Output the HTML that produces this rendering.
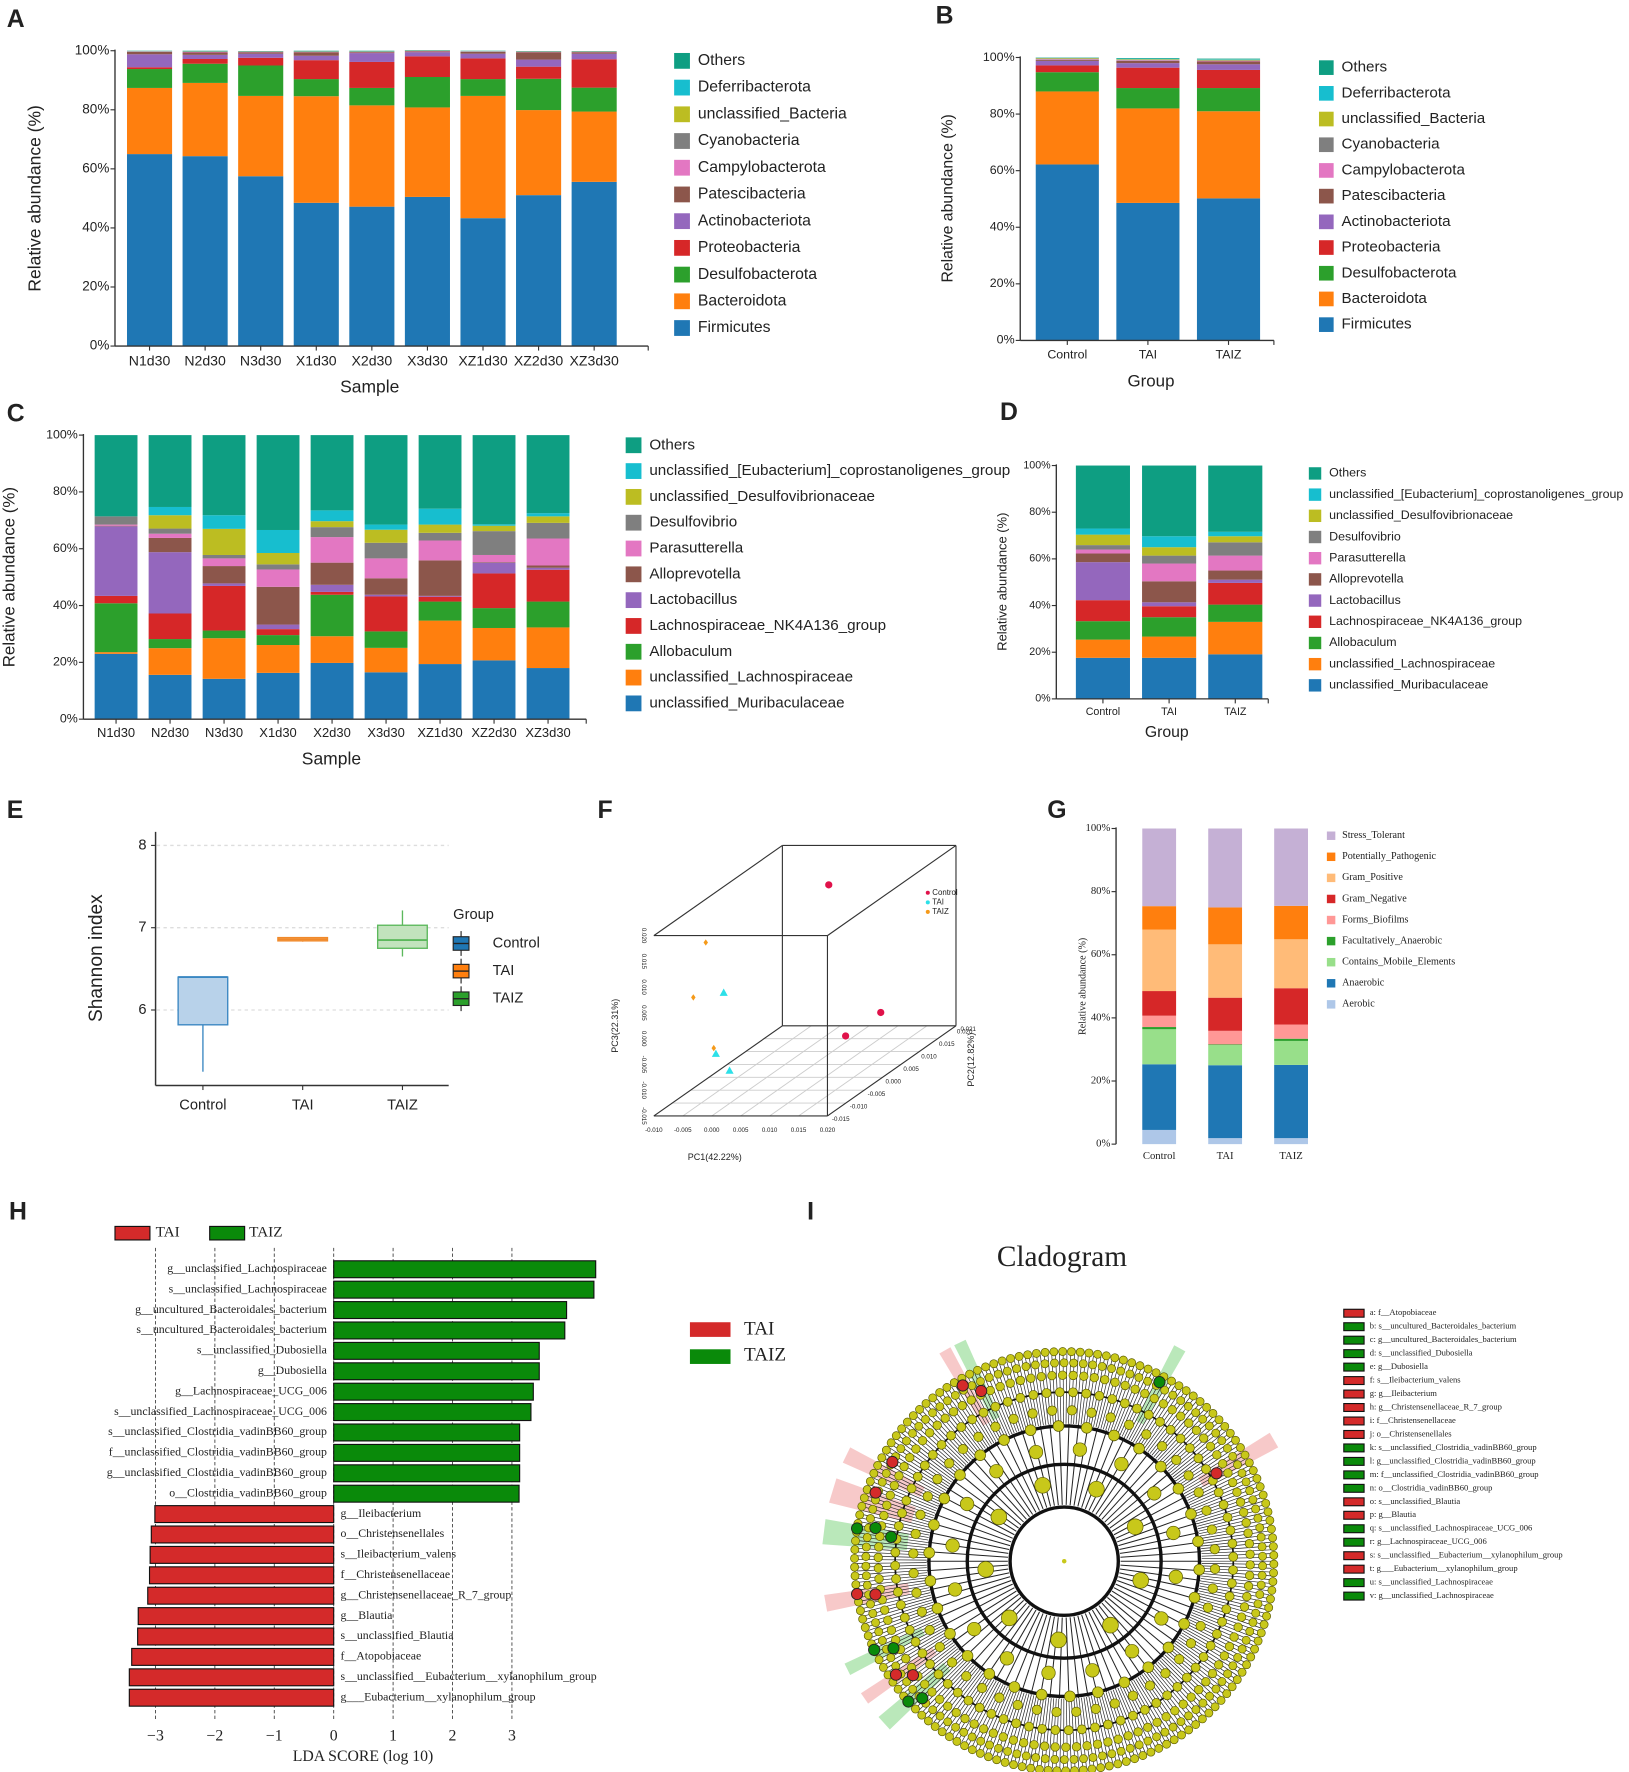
<!DOCTYPE html>
<html><head><meta charset="utf-8">
<style>
html,body{margin:0;padding:0;background:#fff;}
svg{display:block;}
text{font-family:"Liberation Sans",sans-serif;fill:#222;}
.serif{font-family:"Liberation Serif",serif;}
</style></head>
<body>
<svg id="fig" xmlns="http://www.w3.org/2000/svg" width="1629" height="1772" viewBox="0 0 1445 1572" preserveAspectRatio="none">
<rect x="0" y="0" width="1445" height="1572" fill="#fff"/>
</svg>
<script>
// ===== Panel A data (phylum, per sample) =====
const aCats=['N1d30','N2d30','N3d30','X1d30','X2d30','X3d30','XZ1d30','XZ2d30','XZ3d30'];
const aFirmicutes=[65,64.3,57.5,48.5,47.2,50.5,43.3,51.1,55.6];
const aBacteroidota=[22.4,24.8,27.2,36.1,34.3,30.3,41.4,28.8,23.8];
const aDesulfobacterota=[6.4,6.5,10.3,5.8,5.9,10.3,5.7,10.6,8.1];
const aProteobacteria=[0.6,1.6,2.6,6.4,8.8,7.0,7.0,4.1,9.6];
const aActinobacteriota=[4.4,1.4,1.4,1.5,3.0,1.4,1.6,2.4,1.9];
const aPatescibacteria=[0.8,0.8,0.5,1.2,0.3,0.3,0.6,2.5,0.5];
const aCampylobacterota=[0.1,0.2,0.1,0.1,0.1,0.1,0.1,0.1,0.1];
const aCyanobacteria=[0.1,0.1,0.1,0.1,0.1,0.1,0.1,0.1,0.1];
const aUnclBacteria=[0.05,0.05,0.05,0.05,0.05,0.05,0.05,0.05,0.05];
const aDeferribacterota=[0.05,0.05,0.05,0.05,0.05,0.05,0.05,0.05,0.05];
const aOthers=[0.1,0.2,0.1,0.2,0.2,0.1,0.1,0.1,0.1];
// ===== Panel B data (phylum, per group) =====
const bCats=['Control','TAI','TAIZ'];
const bFirmicutes=[62.2,48.6,50.2];
const bBacteroidota=[25.8,33.4,30.8];
const bDesulfobacterota=[6.8,7.2,8.2];
const bProteobacteria=[2.4,7.2,6.4];
const bActinobacteriota=[1.6,1.6,2.0];
const bPatescibacteria=[0.4,0.8,1.0];
const bCampylobacterota=[0.2,0.2,0.2];
const bCyanobacteria=[0.2,0.2,0.2];
const bUnclBacteria=[0.2,0.2,0.2];
const bDeferribacterota=[0.1,0.2,0.2];
const bOthers=[0.1,0.2,0.2];
// ===== Panel C data (genus, per sample) =====
const cMuribaculaceae=[23.0,15.6,14.2,16.3,19.8,16.5,19.4,20.7,18.0];
const cUnclLachno=[0.6,9.4,14.3,9.8,9.4,8.6,15.3,11.4,14.3];
const cAllobaculum=[17.2,3.2,2.7,3.5,14.6,5.8,6.7,7.0,9.1];
const cNK4A136=[2.6,9.0,15.7,2.1,1.0,12.3,1.7,12.2,11.2];
const cLactobacillus=[24.5,21.6,0.9,1.6,2.5,0.6,0.3,3.8,0.7];
const cAlloprevotella=[0.2,5.0,6.1,13.3,7.8,5.8,12.5,0.2,0.8];
const cParasutterella=[0.4,1.5,2.7,6.1,9.0,7.0,7.0,2.5,9.5];
const cDesulfovibrio=[2.9,1.8,1.2,1.8,3.5,5.5,2.7,8.4,5.5];
const cUnclDesulfo=[0.0,4.7,9.2,4.0,2.1,4.6,2.9,1.9,2.3];
const cUnclEubact=[0.0,2.9,4.8,8.1,3.8,1.8,5.6,0.5,1.1];
const cOthers=[28.6,25.3,28.2,33.4,26.5,31.5,25.9,31.4,27.5];
// ===== Panel D data (genus, per group) =====
const dMuribaculaceae=[17.6,17.6,19.1];
const dUnclLachno=[7.8,9.1,13.9];
const dAllobaculum=[7.9,8.3,7.4];
const dNK4A136=[9.0,4.7,9.3];
const dLactobacillus=[16.3,1.7,1.4];
const dAlloprevotella=[3.7,9.0,3.9];
const dParasutterella=[1.7,7.6,6.4];
const dDesulfovibrio=[1.9,3.4,5.7];
const dUnclDesulfo=[4.5,3.6,2.6];
const dUnclEubact=[2.6,4.7,1.9];
const dOthers=[27.0,30.3,28.4];
// ===== Panel E data (Shannon) =====
const eGroups=['Control','TAI','TAIZ'];
const eMin=[5.25,6.83,6.65];
const eQ1=[5.82,6.84,6.75];
const eMed=[6.40,6.86,6.85];
const eQ3=[6.40,6.88,7.03];
const eMax=[6.40,6.88,7.21];
const eTicks=[6,7,8];
// ===== Panel F data (PCoA 3D) =====
const fGroup=['Control','Control','Control','TAI','TAI','TAI','TAIZ','TAIZ','TAIZ'];
const fPC1=[0.0048,0.0107,0.0108,-0.0041,-0.0036,0.0000,-0.0072,-0.0075,-0.0052];
const fPC2=[0.010,0.015,0.005,-0.005,-0.008,-0.010,-0.005,-0.008,-0.006];
const fPC3=[0.0177,-0.0095,-0.0092,0.0040,-0.0064,-0.0087,0.0138,0.0046,-0.0062];
// ===== Panel G data (BugBase phenotypes) =====
const gAerobic=[4.5,1.9,1.9];
const gAnaerobic=[20.8,23.1,23.2];
const gMobile=[11.1,6.4,7.6];
const gFacult=[0.7,0.2,0.7];
const gBiofilm=[3.6,4.3,4.5];
const gGramNeg=[7.8,10.5,11.5];
const gGramPos=[19.5,16.9,15.5];
const gPatho=[7.4,11.7,10.6];
const gStress=[24.6,25.0,24.5];
// ===== Panel H data (LEfSe LDA) =====
const hLabels=['g__unclassified_Lachnospiraceae','s__unclassified_Lachnospiraceae','g__uncultured_Bacteroidales_bacterium','s__uncultured_Bacteroidales_bacterium','s__unclassified_Dubosiella','g__Dubosiella','g__Lachnospiraceae_UCG_006','s__unclassified_Lachnospiraceae_UCG_006','s__unclassified_Clostridia_vadinBB60_group','f__unclassified_Clostridia_vadinBB60_group','g__unclassified_Clostridia_vadinBB60_group','o__Clostridia_vadinBB60_group','g__Ileibacterium','o__Christensenellales','s__Ileibacterium_valens','f__Christensenellaceae','g__Christensenellaceae_R_7_group','g__Blautia','s__unclassified_Blautia','f__Atopobiaceae','s__unclassified__Eubacterium__xylanophilum_group','g___Eubacterium__xylanophilum_group'];
const hScores=[4.41,4.38,3.92,3.89,3.46,3.46,3.36,3.32,3.13,3.13,3.13,3.12,-3.01,-3.07,-3.09,-3.10,-3.13,-3.29,-3.30,-3.40,-3.44,-3.44];
const hTicks=[-3,-2,-1,0,1,2,3];

const NS='http://www.w3.org/2000/svg';
const svg=document.getElementById('fig');
function mk(tag,attrs,parent,name){const e=document.createElementNS(NS,tag);for(const k in attrs)e.setAttribute(k,attrs[k]);(parent||svg).appendChild(e);


return e;}
function txt(x,y,s,size,anchor,parent,name,extra){const a={x:x,y:y,'font-size':size,'text-anchor':anchor||'start','dominant-baseline':'middle'};if(extra)for(const k in extra)a[k]=extra[k];const e=mk('text',a,parent,name);e.textContent=s;return e;}
function group(name){const g=document.createElementNS(NS,'g');svg.appendChild(g);


return g;}

function stacked(o){
  const g=o.g;
  const yS=v=>o.y0-v/100*(o.y0-o.y100);
  const xC=i=>o.xStart+o.step*(i+0.5);
  for(let i=0;i<o.cats.length;i++){
    let cum=0;
    for(let s=0;s<o.series.length;s++){
      const v=o.series[s][i];
      const r=mk('rect',{x:xC(i)-o.barW/2,y:yS(cum+v),width:o.barW,height:Math.max(0,yS(cum)-yS(cum+v)),fill:o.colors[s]},g,'bar-'+o.cats[i]+'-'+o.names[s]);
      cum+=v;
    }
  }
  // axes
  mk('line',{x1:o.axisX,y1:o.y100-1,x2:o.axisX,y2:o.y0,stroke:'#333','stroke-width':1.2},g,'y-axis');
  mk('line',{x1:o.axisX,y1:o.y0,x2:o.axisEnd,y2:o.y0,stroke:'#333','stroke-width':1.2},g,'x-axis');
  [0,20,40,60,80,100].forEach(t=>{
    mk('line',{x1:o.axisX-4,y1:yS(t),x2:o.axisX,y2:yS(t),stroke:'#333','stroke-width':1},g,'y-tick');
    txt(o.axisX-5,yS(t),t+'%',o.tickSize,'end',g,'y-tick-label',o.serif?{class:'serif'}:null);
  });
  for(let i=0;i<o.cats.length;i++){
    if(!o.serif) mk('line',{x1:xC(i),y1:o.y0,x2:xC(i),y2:o.y0+4,stroke:'#333','stroke-width':1},g,'x-tick');
    txt(xC(i),o.y0+o.xLabDy,o.cats[i],o.xTickSize,'middle',g,'x-tick-label',o.serif?{class:'serif'}:null);
  }
  if(!o.serif) mk('line',{x1:o.axisEnd,y1:o.y0,x2:o.axisEnd,y2:o.y0+4,stroke:'#333','stroke-width':1},g,'x-tick');
}
function legend(g,x,y,dy,names,colors,size,sw,serif){
  for(let i=0;i<names.length;i++){
    mk('rect',{x:x,y:y+i*dy-sw/2,width:sw,height:sw,fill:colors[i]},g,'legend-swatch-'+names[i]);
    txt(x+sw+ (serif?6:7),y+i*dy,names[i],size,'start',g,'legend-entry-'+names[i],serif?{class:'serif'}:null);
  }
}
function panelLetter(x,y,s){const t=txt(x,y,s,22,'start',svg,'panel-label-'+s,{'font-weight':'bold'});}

const phylumNames=['Firmicutes','Bacteroidota','Desulfobacterota','Proteobacteria','Actinobacteriota','Patescibacteria','Campylobacterota','Cyanobacteria','unclassified_Bacteria','Deferribacterota','Others'];
const phylumColors=['#1f77b4','#ff7f0e','#2ca02c','#d62728','#9467bd','#8c564b','#e377c2','#7f7f7f','#bcbd22','#17becf','#0e9e82'];
const genusNames=['unclassified_Muribaculaceae','unclassified_Lachnospiraceae','Allobaculum','Lachnospiraceae_NK4A136_group','Lactobacillus','Alloprevotella','Parasutterella','Desulfovibrio','unclassified_Desulfovibrionaceae','unclassified_[Eubacterium]_coprostanoligenes_group','Others'];
const genusColors=phylumColors;

// ---- Panel A ----
panelLetter(6,18,'A');
let gA=group('panel-a-phylum-by-sample');
stacked({g:gA,cats:aCats,series:[aFirmicutes,aBacteroidota,aDesulfobacterota,aProteobacteria,aActinobacteriota,aPatescibacteria,aCampylobacterota,aCyanobacteria,aUnclBacteria,aDeferribacterota,aOthers],colors:phylumColors,names:phylumNames,xStart:108,step:49.3,barW:40,y0:307,y100:45,axisX:102,axisEnd:575,tickSize:12,xTickSize:12.5,xLabDy:14});
txt(32,176,'Relative abundance (%)',15.5,'middle',gA,'y-axis-title',{transform:'rotate(-90 32 176)'});
txt(328,344,'Sample',15.5,'middle',gA,'x-axis-title');
legend(gA,598,291,-23.7,phylumNames,phylumColors,14,14);

// ---- Panel B ----
panelLetter(830,15,'B');
let gB=group('panel-b-phylum-by-group');
stacked({g:gB,cats:bCats,series:[bFirmicutes,bBacteroidota,bDesulfobacterota,bProteobacteria,bActinobacteriota,bPatescibacteria,bCampylobacterota,bCyanobacteria,bUnclBacteria,bDeferribacterota,bOthers],colors:phylumColors,names:phylumNames,xStart:911,step:71.5,barW:56,y0:302,y100:51,axisX:905,axisEnd:1130,tickSize:11,xTickSize:11,xLabDy:13});
txt(841,176,'Relative abundance (%)',14,'middle',gB,'y-axis-title',{transform:'rotate(-90 841 176)'});
txt(1021,339,'Group',15,'middle',gB,'x-axis-title');
legend(gB,1170,288,-22.8,phylumNames,phylumColors,13.5,13);

// ---- Panel C ----
panelLetter(6,368,'C');
let gC=group('panel-c-genus-by-sample');
stacked({g:gC,cats:aCats,series:[cMuribaculaceae,cUnclLachno,cAllobaculum,cNK4A136,cLactobacillus,cAlloprevotella,cParasutterella,cDesulfovibrio,cUnclDesulfo,cUnclEubact,cOthers],colors:genusColors,names:genusNames,xStart:79,step:47.9,barW:38,y0:638,y100:386,axisX:74,axisEnd:520,tickSize:11,xTickSize:11.5,xLabDy:13});
txt(9,512,'Relative abundance (%)',15,'middle',gC,'y-axis-title',{transform:'rotate(-90 9 512)'});
txt(294,674,'Sample',15.5,'middle',gC,'x-axis-title');
legend(gC,555,624,-22.9,genusNames,genusColors,13.5,14);

// ---- Panel D ----
panelLetter(887,367,'D');
let gD=group('panel-d-genus-by-group');
stacked({g:gD,cats:bCats,series:[dMuribaculaceae,dUnclLachno,dAllobaculum,dNK4A136,dLactobacillus,dAlloprevotella,dParasutterella,dDesulfovibrio,dUnclDesulfo,dUnclEubact,dOthers],colors:genusColors,names:genusNames,xStart:949,step:58.7,barW:48,y0:620,y100:413,axisX:937,axisEnd:1125,tickSize:9.5,xTickSize:9.5,xLabDy:12});
txt(890,516,'Relative abundance (%)',11.5,'middle',gD,'y-axis-title',{transform:'rotate(-90 890 516)'});
txt(1035,650,'Group',14,'middle',gD,'x-axis-title');
legend(gD,1161,608,-18.8,genusNames,genusColors,11,11);

// ---- Panel E (boxplot) ----
panelLetter(6,720,'E');
let gE=group('panel-e-shannon-boxplot');
const eY=v=>896-(v-6)*73;
const eX=i=>180+i*88.5;
const eFill=['#b8d2ea','#f8b677','#c2e3bd'];
const eStroke=['#3a87c2','#f0892a','#5cb85c'];
eTicks.forEach(t=>{
  mk('line',{x1:139,y1:eY(t),x2:398,y2:eY(t),stroke:'#ddd','stroke-width':1.2,'stroke-dasharray':'3,3'},gE,'gridline');
  mk('line',{x1:134,y1:eY(t),x2:138,y2:eY(t),stroke:'#333','stroke-width':1},gE,'y-tick');
  txt(130,eY(t),String(t),13,'end',gE,'y-tick-label');
});
mk('line',{x1:138,y1:738,x2:138,y2:963,stroke:'#333','stroke-width':1.3},gE,'y-axis');
mk('line',{x1:138,y1:963,x2:398,y2:963,stroke:'#333','stroke-width':1.3},gE,'x-axis');
for(let i=0;i<eGroups.length;i++){
  mk('line',{x1:eX(i),y1:eY(eMin[i]),x2:eX(i),y2:eY(eMax[i]),stroke:eStroke[i],'stroke-width':1.2},gE,'whisker-'+eGroups[i]);
  mk('rect',{x:eX(i)-22,y:eY(eQ3[i]),width:44,height:Math.max(1.5,eY(eQ1[i])-eY(eQ3[i])),fill:eFill[i],stroke:eStroke[i],'stroke-width':1.2},gE,'box-'+eGroups[i]);
  mk('line',{x1:eX(i)-22,y1:eY(eMed[i]),x2:eX(i)+22,y2:eY(eMed[i]),stroke:eStroke[i],'stroke-width':1.6},gE,'median-'+eGroups[i]);
  mk('line',{x1:eX(i),y1:963,x2:eX(i),y2:967,stroke:'#333','stroke-width':1},gE,'x-tick');
  txt(eX(i),981,eGroups[i],13,'middle',gE,'x-tick-label');
}
txt(86,850,'Shannon index',17,'middle',gE,'y-axis-title',{transform:'rotate(-90 86 850)'});
txt(402,812,'Group',13,'start',gE,'legend-title');
const eLegFill=['#1f77b4','#ff7f0e','#2ca02c'];
for(let i=0;i<3;i++){
  const y=837+i*24.5;
  mk('line',{x1:409,y1:y-11,x2:409,y2:y+11,stroke:'#222','stroke-width':1},gE,'legend-key-line');
  mk('rect',{x:402,y:y-6,width:14,height:12,fill:eLegFill[i],stroke:'#222','stroke-width':1},gE,'legend-key-'+eGroups[i]);
  mk('line',{x1:402,y1:y,x2:416,y2:y,stroke:'#222','stroke-width':1.2},gE,'legend-key-median');
  txt(437,y,eGroups[i],13,'start',gE,'legend-entry-'+eGroups[i]);
}

// ---- Panel F (3D PCoA) ----
panelLetter(530,720,'F');
let gF=group('panel-f-pcoa-3d');
const fO={x:580,y:990};
const fP=(p1,p2,p3)=>({x:fO.x+(p1+0.010)*5133+(p2+0.015)*3167,y:fO.y-(p3+0.015)*4571-(p2+0.015)*2222});
// floor grid
for(let k=0;k<=6;k++){
  const a=fP(-0.010+k*0.005,-0.015,-0.015), b=fP(-0.010+k*0.005,0.021,-0.015);
  mk('line',{x1:a.x,y1:a.y,x2:b.x,y2:b.y,stroke:'#ccc','stroke-width':0.8},gF,'floor-grid');
}
for(let k=0;k<=7;k++){
  const p2=-0.015+k*0.036/7;
  const a=fP(-0.010,p2,-0.015), b=fP(0.020,p2,-0.015);
  mk('line',{x1:a.x,y1:a.y,x2:b.x,y2:b.y,stroke:'#ccc','stroke-width':0.8},gF,'floor-grid');
}
const fc={
 fbl:fP(-0.010,-0.015,-0.015),fbr:fP(0.020,-0.015,-0.015),ftl:fP(-0.010,-0.015,0.020),ftr:fP(0.020,-0.015,0.020),
 bbl:fP(-0.010,0.021,-0.015),bbr:fP(0.020,0.021,-0.015),btl:fP(-0.010,0.021,0.020),btr:fP(0.020,0.021,0.020)};
[['fbl','fbr'],['ftl','ftr'],['ftl','btl'],['btl','btr'],['btr','ftr'],['ftr','fbr'],['btl','bbl'],['btr','bbr'],['bbl','bbr'],['fbl','bbl'],['fbr','bbr']].forEach(e=>{
  mk('line',{x1:fc[e[0]].x,y1:fc[e[0]].y,x2:fc[e[1]].x,y2:fc[e[1]].y,stroke:'#333','stroke-width':1},gF,'box-edge');
});
['-0.010','-0.005','0.000','0.005','0.010','0.015','0.020'].forEach((s,k)=>{
  const p=fP(-0.010+k*0.005,-0.015,-0.015);
  txt(p.x,p.y+13,s,5.5,'middle',gF,'pc1-tick-label');
});
['-0.015','-0.010','-0.005','0.000','0.005','0.010','0.015','0.020'].forEach((s,k)=>{
  const p=fP(-0.010,-0.015,-0.015+k*0.005);
  txt(p.x-9,p.y,s,5.5,'middle',gF,'pc3-tick-label',{transform:'rotate(90 '+(p.x-9)+' '+p.y+')'});
});
['-0.015','-0.010','-0.005','0.000','0.005','0.010','0.015','0.020','0.021'].forEach((s,k)=>{
  const p=fP(0.020,-0.015+Math.min(k*0.005,0.036),-0.015);
  txt(p.x+4,p.y+3,s,5.5,'start',gF,'pc2-tick-label');
});
const fCol={Control:'#e0124a',TAI:'#2ce0e8',TAIZ:'#f59a1a'};
for(let i=0;i<fGroup.length;i++){
  const p=fP(fPC1[i],fPC2[i],fPC3[i]);
  if(fGroup[i]==='Control') mk('circle',{cx:p.x,cy:p.y,r:3.2,fill:fCol.Control},gF,'point-control');
  else if(fGroup[i]==='TAI') mk('polygon',{points:(p.x)+','+(p.y-4)+' '+(p.x-3.6)+','+(p.y+2.5)+' '+(p.x+3.6)+','+(p.y+2.5),fill:fCol.TAI},gF,'point-tai');
  else mk('polygon',{points:(p.x)+','+(p.y-2.8)+' '+(p.x+2)+','+p.y+' '+p.x+','+(p.y+2.8)+' '+(p.x-2)+','+p.y,fill:fCol.TAIZ},gF,'point-taiz');
}
['Control','TAI','TAIZ'].forEach((n,i)=>{
  const y=792+i*8.5;
  mk('circle',{cx:823,cy:y,r:1.8,fill:fCol[n]},gF,'legend-marker-'+n);
  txt(827,y,n,7,'start',gF,'legend-entry-'+n);
});
txt(546,910,'PC3(22.31%)',8,'middle',gF,'pc3-axis-title',{transform:'rotate(-90 546 910)'});
txt(862,940,'PC2(12.82%)',8,'middle',gF,'pc2-axis-title',{transform:'rotate(-90 862 940)'});
txt(634,1027,'PC1(42.22%)',8,'middle',gF,'pc1-axis-title');

// ---- Panel G ----
panelLetter(929,720,'G');
let gG=group('panel-g-bugbase-phenotypes');
const gNames=['Aerobic','Anaerobic','Contains_Mobile_Elements','Facultatively_Anaerobic','Forms_Biofilms','Gram_Negative','Gram_Positive','Potentially_Pathogenic','Stress_Tolerant'];
const gColors=['#aec7e8','#1f77b4','#98df8a','#2ca02c','#ff9896','#d62728','#ffbb78','#ff7f0e','#c5b0d5'];
stacked({g:gG,cats:bCats,series:[gAerobic,gAnaerobic,gMobile,gFacult,gBiofilm,gGramNeg,gGramPos,gPatho,gStress],colors:gColors,names:gNames,xStart:999,step:58.5,barW:30,y0:1015,y100:735,axisX:990,axisEnd:990,tickSize:9.5,xTickSize:9.5,xLabDy:11,serif:true});
txt(961,875,'Relative abundance (%)',9,'middle',gG,'y-axis-title',{class:'serif',transform:'rotate(-90 961 875)'});
legend(gG,1177,891,-18.7,gNames,gColors,9,7.5,true);

// ---- Panel H (LDA) ----
panelLetter(8,1076,'H');
let gH=group('panel-h-lda-scores');
const hX=v=>296+v*52.7;
const hY=i=>1126+i*18.1;
hTicks.forEach(t=>{
  mk('line',{x1:hX(t),y1:1107,x2:hX(t),y2:1525,stroke:'#444','stroke-width':0.8,'stroke-dasharray':'3,2'},gH,'gridline');
  txt(hX(t),1541,t<0?'\u2212'+Math.abs(t):String(t),14,'middle',gH,'x-tick-label',{class:'serif'});
});
for(let i=0;i<hLabels.length;i++){
  const v=hScores[i];
  const x1=Math.min(hX(0),hX(v)),w=Math.abs(hX(v)-hX(0));
  mk('rect',{x:x1,y:hY(i)-7.5,width:w,height:15,fill:v>0?'#0a8a0a':'#d42a2a',stroke:'#111','stroke-width':1},gH,'bar-'+hLabels[i]);
  if(v>0) txt(hX(0)-6,hY(i),hLabels[i],10.5,'end',gH,'bar-label',{class:'serif'});
  else txt(hX(0)+6,hY(i),hLabels[i],10.5,'start',gH,'bar-label',{class:'serif'});
}
txt(322,1559,'LDA SCORE (log 10)',14,'middle',gH,'x-axis-title',{class:'serif'});
mk('rect',{x:102,y:1088,width:31,height:12,fill:'#d42a2a',stroke:'#111','stroke-width':1},gH,'legend-swatch-tai');
txt(138,1094,'TAI',13.5,'start',gH,'legend-entry-tai',{class:'serif'});
mk('rect',{x:186,y:1088,width:31,height:12,fill:'#0a8a0a',stroke:'#111','stroke-width':1},gH,'legend-swatch-taiz');
txt(221,1094,'TAIZ',13.5,'start',gH,'legend-entry-taiz',{class:'serif'});
mk('rect',{x:612,y:1173,width:36,height:13,fill:'#d42a2a'},gH,'legend2-swatch-tai');
txt(660,1180,'TAI',17,'start',gH,'legend2-entry-tai',{class:'serif'});
mk('rect',{x:612,y:1197,width:36,height:13,fill:'#0a8a0a'},gH,'legend2-swatch-taiz');
txt(660,1203,'TAIZ',17,'start',gH,'legend2-entry-taiz',{class:'serif'});

// ---- Panel I (cladogram) ----
panelLetter(716,1076,'I');
let gI=group('panel-i-cladogram');
txt(942,1117,'Cladogram',26,'middle',gI,'cladogram-title',{class:'serif'});
const cx=944,cy=1385;
const pol=(r,a)=>({x:cx+r*Math.cos(a*Math.PI/180),y:cy-r*Math.sin(a*Math.PI/180)});
// highlight wedges
[[160,166,'#e88'],[152,156,'#e88'],[170,176,'#6c6'],[188,192,'#e88'],[205,208,'#6c6'],[213,216,'#e88'],[220,224,'#6c6'],[118,121,'#e88'],[114,117,'#6c6'],[60,63,'#6c6'],[28,32,'#e88']].forEach((w,k)=>{
  const a=pol(140,w[0]),b=pol(215,w[0]),c=pol(215,w[1]),d=pol(140,w[1]);
  mk('polygon',{points:[a,b,c,d].map(p=>p.x+','+p.y).join(' '),fill:w[2],opacity:0.45},gI,'clade-highlight');
});
for(let a=0;a<360;a+=1.05){const p=pol(122,a),q=pol(184,a);mk('line',{x1:p.x,y1:p.y,x2:q.x,y2:q.y,stroke:'#222','stroke-width':0.6},gI,'leaf-branch');}
for(let a=0;a<360;a+=4){const p=pol(50,a),q=pol(122,a);mk('line',{x1:p.x,y1:p.y,x2:q.x,y2:q.y,stroke:'#222','stroke-width':0.9},gI,'branch');}
[48,86,120].forEach(r=>mk('circle',{cx:cx,cy:cy,r:r,fill:'none',stroke:'#111','stroke-width':3},gI,'clade-ring'));
mk('circle',{cx:cx,cy:cy,r:150,fill:'none',stroke:'#111','stroke-width':1.5},gI,'clade-ring');
[[186,150,3.6],[176,130,3.6],[165,110,3.8],[150,80,4],[134,48,4.2],[120,30,4.8],[100,16,6],[70,9,7]].forEach(rg=>{
  for(let k=0;k<rg[1];k++){const p=pol(rg[0],k*360/rg[1]+rg[0]*0.37);
    mk('circle',{cx:p.x,cy:p.y,r:rg[2],fill:'#c8c81a',stroke:'#5a5a00','stroke-width':0.6},gI,'taxon-node');}
});
mk('circle',{cx:cx,cy:cy,r:2,fill:'#c8c81a'},gI,'root-node');
[[178,160,'#d42a2a'],[176,150,'#d42a2a'],[186,171,'#0a8a0a'],[170,170,'#0a8a0a'],[155,172,'#0a8a0a'],[186,189,'#d42a2a'],[170,190,'#d42a2a'],[186,205,'#0a8a0a'],[170,207,'#0a8a0a'],[180,214,'#d42a2a'],[168,217,'#d42a2a'],[186,222,'#0a8a0a'],[175,224,'#0a8a0a'],[180,120,'#d42a2a'],[168,116,'#d42a2a'],[180,62,'#0a8a0a'],[156,30,'#d42a2a']].forEach(n=>{
  const p=pol(n[0],n[1]);mk('circle',{cx:p.x,cy:p.y,r:5,fill:n[2],stroke:'#222','stroke-width':0.8},gI,'enriched-node');
});
const iLegend=['a: f__Atopobiaceae','b: s__uncultured_Bacteroidales_bacterium','c: g__uncultured_Bacteroidales_bacterium','d: s__unclassified_Dubosiella','e: g__Dubosiella','f: s__Ileibacterium_valens','g: g__Ileibacterium','h: g__Christensenellaceae_R_7_group','i: f__Christensenellaceae','j: o__Christensenellales','k: s__unclassified_Clostridia_vadinBB60_group','l: g__unclassified_Clostridia_vadinBB60_group','m: f__unclassified_Clostridia_vadinBB60_group','n: o__Clostridia_vadinBB60_group','o: s__unclassified_Blautia','p: g__Blautia','q: s__unclassified_Lachnospiraceae_UCG_006','r: g__Lachnospiraceae_UCG_006','s: s__unclassified__Eubacterium__xylanophilum_group','t: g___Eubacterium__xylanophilum_group','u: s__unclassified_Lachnospiraceae','v: g__unclassified_Lachnospiraceae'];
const iEnriched=['TAI','TAIZ','TAIZ','TAIZ','TAIZ','TAI','TAI','TAI','TAI','TAI','TAIZ','TAIZ','TAIZ','TAIZ','TAI','TAI','TAIZ','TAIZ','TAI','TAI','TAIZ','TAIZ'];
for(let i=0;i<iLegend.length;i++){
  const y=1165+i*11.95;
  mk('rect',{x:1192,y:y-3.5,width:18,height:7,fill:iEnriched[i]==='TAI'?'#d42a2a':'#0a8a0a',stroke:'#111','stroke-width':1},gI,'legend-swatch-'+iLegend[i].charAt(0));
  txt(1215,y,iLegend[i],7.6,'start',gI,'legend-entry-'+iLegend[i].charAt(0),{class:'serif'});
}
</script>
</body></html>
